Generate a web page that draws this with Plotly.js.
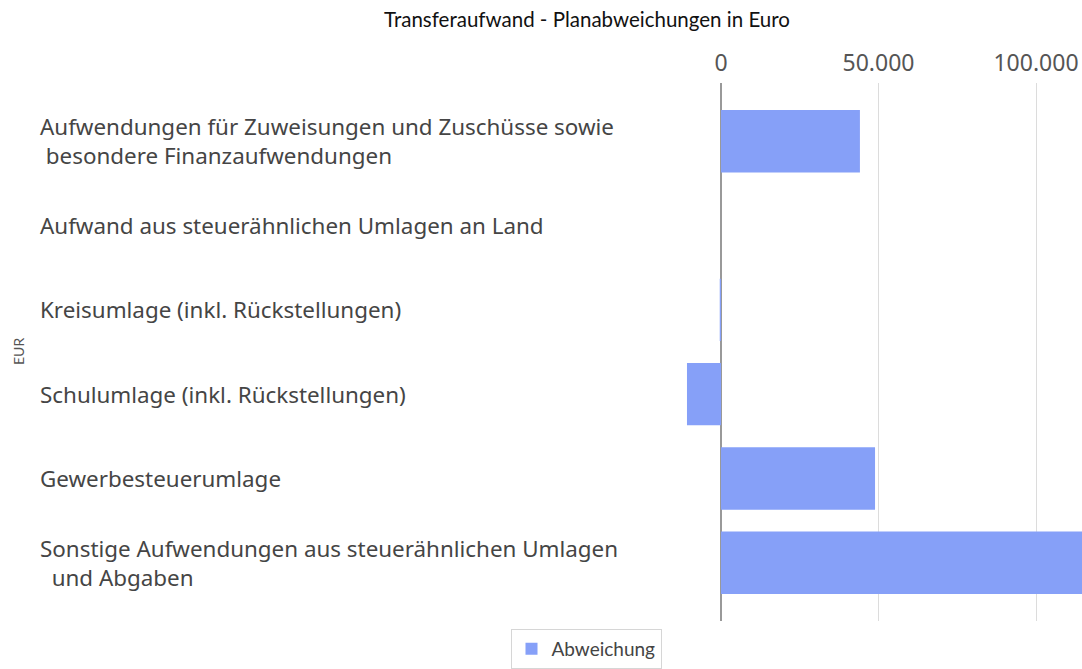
<!DOCTYPE html>
<html>
<head>
<meta charset="utf-8">
<script src="https://cdn.plot.ly/plotly-3.0.1.min.js"></script>
<style>html,body{margin:0;padding:0;background:#fff;}#chart{width:1082px;height:669px;}</style>
</head>
<body>
<div id="chart"></div>
<script>
var categories = [
  "Aufwendungen für Zuweisungen und Zuschüsse sowie<br> besondere Finanzaufwendungen",
  "Aufwand aus steuerähnlichen Umlagen an Land",
  "Kreisumlage (inkl. Rückstellungen)",
  "Schulumlage (inkl. Rückstellungen)",
  "Gewerbesteuerumlage",
  "Sonstige Aufwendungen aus steuerähnlichen Umlagen<br>  und Abgaben"
];
var abweichung = [44100, 0, -400, -10800, 48900, 118000];
var tickValues = [0, 50000, 100000];
var tickLabels = ["0", "50.000", "100.000"];
var seriesName = "Abweichung";

var W = 1082, H = 669;
var plotLeft = 680, plotTop = 83, plotBottom = 623;

var trace = {
  type: "bar",
  orientation: "h",
  x: abweichung,
  y: categories.map(function(c, i){ return i; }),
  name: seriesName,
  marker: {color: "#86a0f8"},
  showlegend: true,
  hoverinfo: "x"
};

var annotations = categories.map(function(c, i){
  return {
    xref: "paper", yref: "y",
    x: (38 - plotLeft) / (W - plotLeft), y: i,
    xanchor: "left", yanchor: "middle", align: "left",
    text: c, showarrow: false,
    font: {family: "Noto Sans, sans-serif", size: 22.4, color: "#454545"}
  };
});
annotations.push({
  xref: "paper", yref: "paper",
  x: (18 - plotLeft) / (W - plotLeft), y: 0.5,
  xanchor: "center", yanchor: "middle",
  text: "EUR", textangle: -90, showarrow: false,
  font: {family: "Lato, sans-serif", size: 14, color: "#555"}
});

var layout = {
  width: W, height: H,
  margin: {l: plotLeft, r: 0, t: plotTop, b: H - plotBottom},
  paper_bgcolor: "#fff", plot_bgcolor: "#fff",
  title: {
    text: "Transferaufwand - Planabweichungen in Euro",
    font: {family: "Lato, sans-serif", size: 20.5, color: "#111"},
    x: 587 / W, xanchor: "center", xref: "container",
    y: 1 - 20 / H, yanchor: "middle", yref: "container"
  },
  xaxis: {
    side: "top",
    range: [-(721 - plotLeft) / 0.00315, (W - 721) / 0.00315],
    tickvals: tickValues, ticktext: tickLabels,
    tickfont: {family: "Noto Sans, sans-serif", size: 23, color: "#555"},
    ticklabelstandoff: 6,
    showgrid: true, gridcolor: "#dcdcdc", gridwidth: 1,
    zeroline: true, zerolinecolor: "#999999", zerolinewidth: 2,
    showline: false, ticks: "", fixedrange: true
  },
  yaxis: {
    range: [5.69, -0.69],
    showticklabels: false, showgrid: false, zeroline: false,
    showline: false, ticks: "", fixedrange: true
  },
  bargap: 0.26,
  showlegend: true,
  legend: {
    orientation: "h",
    x: (586 - plotLeft) / (W - plotLeft), xanchor: "center",
    y: -(651 - plotBottom) / (plotBottom - plotTop), yanchor: "middle",
    bordercolor: "#d6d6d6", borderwidth: 1,
    font: {family: "Lato, sans-serif", size: 19, color: "#444"}
  },
  annotations: annotations
};

Plotly.newPlot("chart", [trace], layout, {displayModeBar: false, staticPlot: true});
</script>
</body>
</html>
